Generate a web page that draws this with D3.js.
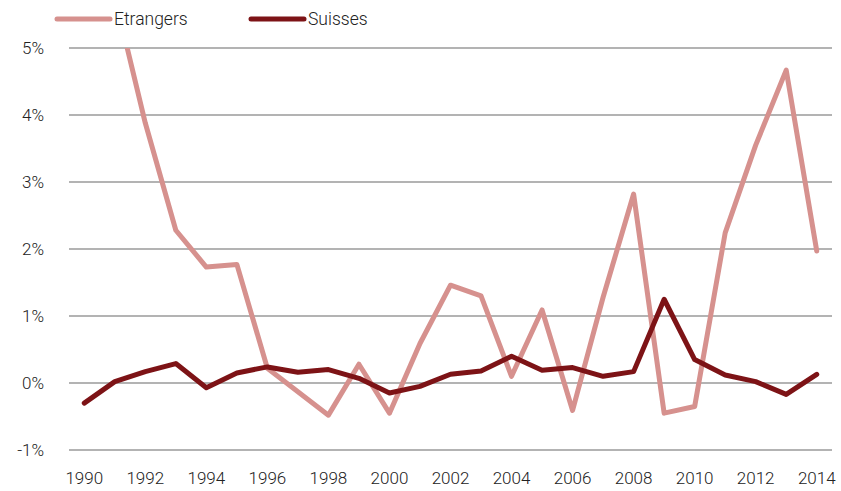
<!DOCTYPE html>
<html lang="fr">
<head>
    <meta charset="UTF-8">
    <title>Etrangers / Suisses</title>
    <script src="https://d3js.org/d3.v7.min.js"></script>
    <style>
        body { margin: 0; background: #fff; }
        text { font-family: "Helvetica Neue", Roboto, "Liberation Sans", sans-serif; font-weight: 300; fill: #222; }
        .grid line { stroke: #9a9a9a; stroke-width: 1.5; }
    </style>
</head>
<body>
<svg id="chart" width="841" height="491"></svg>
<script>
    const years = d3.range(1990, 2015);
    const yTicks = [-1, 0, 1, 2, 3, 4, 5];
    const seriesNames = ["Etrangers", "Suisses"];
    const seriesColors = ["#d6918e", "#7d1316"];

    // values in %, null = no data
    const etrangers = [null, 5.77, 3.88, 2.28, 1.73, 1.77, 0.22, -0.13, -0.48, 0.28, -0.45, 0.59, 1.46, 1.30,
        0.10, 1.09, -0.41, 1.28, 2.82, -0.45, -0.35, 2.24, 3.55, 4.67, 1.97];
    const suisses = [-0.30, 0.02, 0.17, 0.29, -0.07, 0.15, 0.24, 0.16, 0.20, 0.07, -0.15, -0.05, 0.13, 0.18,
        0.40, 0.19, 0.23, 0.10, 0.17, 1.25, 0.35, 0.12, 0.02, -0.17, 0.13];

    const margin = {top: 48, left: 69, right: 9, bottom: 41};
    const width = 841 - margin.left - margin.right;
    const height = 491 - margin.top - margin.bottom;

    const svg = d3.select("#chart");
    const g = svg.append("g").attr("transform", `translate(${margin.left},${margin.top})`);

    const x = d3.scaleBand().domain(years).range([0, width]);
    const y = d3.scaleLinear().domain([-1, 5]).range([height, 0]);

    // gridlines
    g.append("g").attr("class", "grid")
        .selectAll("line").data(yTicks).enter().append("line")
        .attr("x1", 0).attr("x2", width)
        .attr("y1", d => y(d)).attr("y2", d => y(d));

    // y labels
    g.selectAll(".ylab").data(yTicks).enter().append("text")
        .attr("x", -25).attr("y", d => y(d)).attr("dy", "0.36em")
        .attr("text-anchor", "end").style("font-size", "17px")
        .text(d => d + "%");

    // x labels
    g.selectAll(".xlab").data(years.filter(d => d % 2 === 0)).enter().append("text")
        .attr("x", d => x(d) + x.bandwidth() / 2).attr("y", height + 34)
        .attr("text-anchor", "middle").style("font-size", "17px")
        .text(d => d);

    svg.append("clipPath").attr("id", "plot")
        .append("rect").attr("x", -10).attr("y", 0).attr("width", width + 20).attr("height", height + 20);

    const line = d3.line()
        .defined(d => d.v !== null)
        .x(d => x(d.year) + x.bandwidth() / 2)
        .y(d => y(d.v));

    [etrangers, suisses].forEach((vals, i) => {
        g.append("path")
            .datum(years.map((yr, j) => ({year: yr, v: vals[j]})))
            .attr("clip-path", "url(#plot)")
            .attr("fill", "none")
            .attr("stroke", seriesColors[i])
            .attr("stroke-width", 5)
            .attr("stroke-linejoin", "round")
            .attr("stroke-linecap", "round")
            .attr("d", line);
    });

    // legend
    const legendX = [57, 251];
    seriesNames.forEach((name, i) => {
        const lg = svg.append("g").attr("transform", `translate(${legendX[i]},19)`);
        lg.append("line").attr("x1", 0).attr("x2", 53)
            .attr("stroke", seriesColors[i]).attr("stroke-width", 5).attr("stroke-linecap", "round");
        lg.append("text").attr("x", 57).attr("dy", "0.36em").style("font-size", "17.5px").text(name);
    });
</script>
</body>
</html>
